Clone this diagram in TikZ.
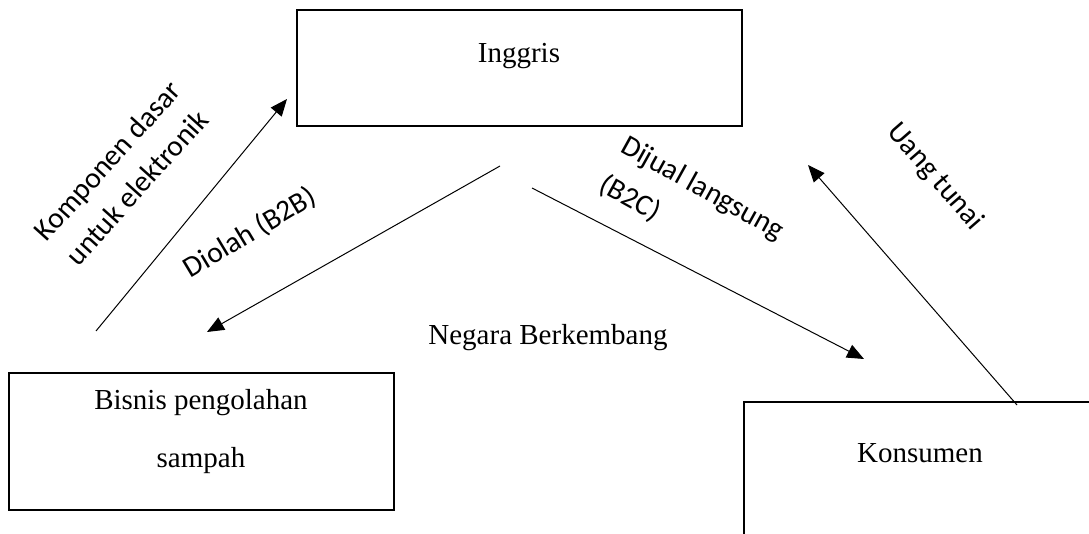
\documentclass[tikz,border=0pt]{standalone}
\usepackage{fontspec}
\setmainfont{Liberation Serif}
\newfontfamily\calibri{Carlito}
\usetikzlibrary{arrows.meta}

\begin{document}
\begin{tikzpicture}
[x=0.5pt,y=-0.5pt,
  boxDecorate/.style={draw,line width=1.3pt,inner sep=0pt},%
  textDecorate/.style={font=\fontsize{14.5}{29}\selectfont,inner sep=0pt},%
  labelDecorate/.style={font=\calibri\fontsize{14.75}{20}\selectfont,inner sep=0pt},%
  arrowDecorate/.style={-{Triangle[length=8.5pt,width=7pt]},line width=0.5pt}]
\useasboundingbox (0,0) rectangle (1089,534);
\clip (0,0) rectangle (1089,534);
%% boxes
\foreach \nodename/\x/\y/\w/\h in {
  inggris/519.5/68/222.5/58, bisnis/201.5/441.5/192.5/68.5,
  konsumen/944/502/200/100}
{
  \node (\nodename) at (\x,\y) [boxDecorate,minimum width=\w pt,minimum height=\h pt] {};
}
%% texts
\node (inggrisText) at (519,63) [textDecorate,anchor=base] {Inggris};
\node (bisnisText) at (201,432) [textDecorate,align=center] {Bisnis pengolahan\\sampah};
\node (konsumenText) at (920,463) [textDecorate,anchor=base] {Konsumen};
\node (negaraText) at (548,345) [textDecorate,anchor=base] {Negara Berkembang};
%% arrow ends
\foreach \cname/\x/\y in {
  kompA/96/331, kompB/287/99, diolahA/500/166, diolahB/207/332,
  dijualA/532/188, dijualB/864/359, uangA/1017/405, uangB/808/165}
{
  \coordinate (\cname) at (\x,\y);
}
%% arrows
\path
\foreach \startnode/\endnode in {kompA/kompB, diolahA/diolahB, dijualA/dijualB, uangA/uangB}
{
  (\startnode) edge[arrowDecorate] (\endnode)
};
%% labels
\node (komponenLabel) at (122,174) [labelDecorate,rotate=48,align=center] {Komponen dasar\\untuk elektronik};
\node (diolahLabel) at (250,233) [labelDecorate,rotate=31] {Diolah (B2B)};
\node (dijualLabel) at (692,208) [labelDecorate,rotate=-29,align=left] {Dijual langsung\\[2pt](B2C)};
\node (uangLabel) at (935,177) [labelDecorate,rotate=-49] {Uang tunai};
\end{tikzpicture}
\end{document}
